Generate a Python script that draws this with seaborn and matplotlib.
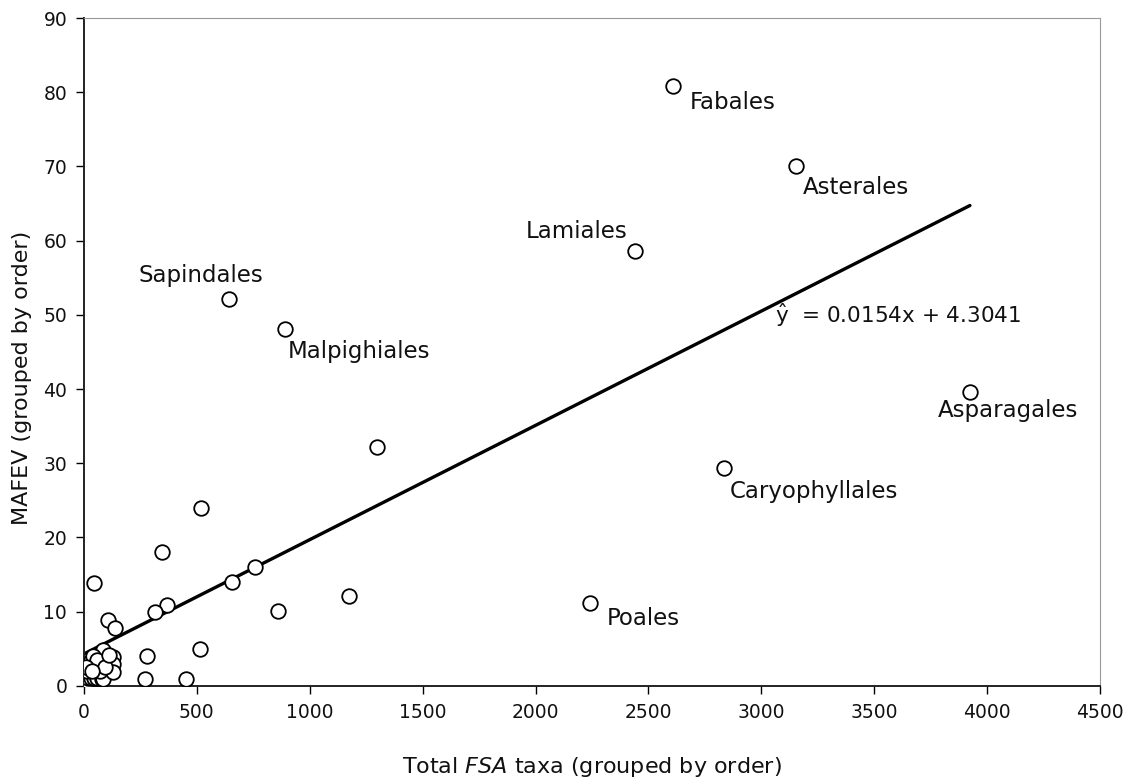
import numpy as np
import pandas as pd
import matplotlib
matplotlib.use("Agg")
import matplotlib.pyplot as plt
import seaborn as sns

# Total FSA taxa per order and MAFEV per order
orders = ["Fabales", "Asterales", "Lamiales", "Sapindales", "Malpighiales",
          "Asparagales", "Caryophyllales", "Poales"]
order_x = [2610, 3153, 2440, 642, 890, 3924, 2835, 2241]
order_y = [80.8, 70.1, 58.6, 52.1, 48.1, 39.6, 29.4, 11.2]

other_x = [1298, 518, 345, 757, 655, 44, 368, 314, 859, 1174, 106, 137,
           279, 514, 270, 452,
           5, 8, 12, 20, 30, 45, 60, 80, 84, 15, 27, 50, 70, 84, 100,
           128, 128, 128, 40, 60, 95, 10, 110, 35]
other_y = [32.2, 24.0, 18.1, 16.0, 14.0, 13.9, 10.9, 10.0, 10.1, 12.1, 8.9, 7.8,
           4.0, 5.0, 0.9, 0.9,
           1.0, 0.5, 1.5, 1.0, 1.0, 1.0, 1.0, 0.9, 0.9, 2.0, 3.2, 2.5, 2.0, 4.9, 3.0,
           3.9, 3.0, 1.9, 4.0, 3.5, 2.5, 2.5, 4.2, 2.0]

slope = 0.0154
intercept = 4.3041

x_ticks = list(range(0, 4501, 500))
y_ticks = list(range(0, 91, 10))

df = pd.DataFrame({"x": order_x + other_x, "y": order_y + other_y})

sns.set_theme(style="white")
plt.rcParams["font.family"] = ["DejaVu Sans"]
plt.rcParams["mathtext.fontset"] = "dejavusans"

fig = plt.figure(figsize=(11.34, 7.83), dpi=100)
ax = fig.add_axes([0.074, 0.124, 0.896, 0.853])

sns.scatterplot(data=df, x="x", y="y", ax=ax, marker="o", s=110,
                facecolor="white", edgecolor="black", linewidth=1.3, zorder=3)

fit_x = np.array([0, max(df["x"])])
fit = pd.DataFrame({"x": fit_x, "y": slope * fit_x + intercept})
sns.lineplot(data=fit, x="x", y="y", ax=ax, color="black", linewidth=2.4, zorder=2)

# label offsets (in points) for each named order
offsets = {
    "Fabales": (12, -12, "left"),
    "Asterales": (5, -16, "left"),
    "Lamiales": (-5, 14, "right"),
    "Sapindales": (-20, 17, "center"),
    "Malpighiales": (2, -16, "left"),
    "Asparagales": (-23, -13, "left"),
    "Caryophyllales": (4, -17, "left"),
    "Poales": (12, -11, "left"),
}
label_size = 16.5
for name, xv, yv in zip(orders, order_x, order_y):
    dx, dy, ha = offsets[name]
    ax.annotate(name, (xv, yv), xytext=(dx, dy), textcoords="offset points",
                ha=ha, va="center", fontsize=label_size, color="#111111")

ax.text(3062, 49.9, r"$\hat{\mathrm{y}}$  = %.4fx + %.4f" % (slope, intercept),
        fontsize=15.5, color="#111111", va="center", ha="left")

ax.set_xlim(0, 4500)
ax.set_ylim(0, 90)
ax.set_xticks(x_ticks)
ax.set_yticks(y_ticks)
ax.tick_params(axis="both", direction="out", length=6, width=1.0,
               color="black", labelsize=13.5, labelcolor="#111111",
               bottom=True, left=True, pad=6)

ax.set_xlabel(r"Total $\mathit{FSA}$ taxa (grouped by order)", fontsize=16,
              color="#111111")
ax.set_ylabel("MAFEV (grouped by order)", fontsize=16, color="#111111")
ax.xaxis.set_label_coords(0.5, -0.103)
ax.yaxis.set_label_coords(-0.051, 0.461)

for side in ("left", "bottom"):
    ax.spines[side].set_color("#222222")
    ax.spines[side].set_linewidth(1.4)
for side in ("top", "right"):
    ax.spines[side].set_color("#999999")
    ax.spines[side].set_linewidth(0.8)
    ax.spines[side].set_linestyle((0, (1, 1)))

fig.savefig("out.png", dpi=100, facecolor="white")
